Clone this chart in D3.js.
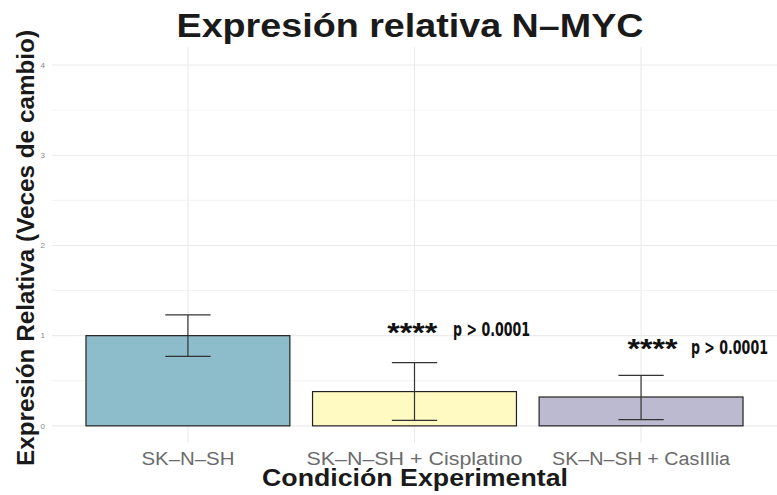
<!DOCTYPE html>
<html>
<head>
<meta charset="utf-8">
<script src="https://cdn.jsdelivr.net/npm/d3@7"></script>
<style>
body{margin:0;background:#fff}
text{font-family:"Liberation Sans",Arial,sans-serif}
</style>
</head>
<body>
<div id="chart"></div>
<script>
var categories = ["SK\u2013N\u2013SH", "SK\u2013N\u2013SH + Cisplatino", "SK\u2013N\u2013SH + CasIIlia"]
var labelWidths = [93, 216, 178]
var means = [1.0, 0.38, 0.32]
var errLow = [0.77, 0.06, 0.07]
var errHigh = [1.23, 0.70, 0.56]
var fills = ["#8dbccb", "#fff9c2", "#bcbad0"]
var yTicks = [0, 1, 2, 3, 4]
var yMinor = [0.5, 1.5, 2.5, 3.5]
// significance labels: category index + offset, y value
var starLabels = [{cat:1, dx:-0.01, y:0.93, text:"****"}, {cat:2, dx:0.05, y:0.75, text:"****"}]
var pLabels = [{cat:1, dx:0.34, y:1.0, text:"p > 0.0001"}, {cat:2, dx:0.39, y:0.8, text:"p > 0.0001"}]

var W=777, H=495
var m={top:47,right:0,bottom:52,left:52}

var svg=d3.select("#chart").append("svg").attr("width",W).attr("height",H)

// ggplot discrete expand: 0.6 on each side of the first/last category centre
var unit=(W-m.right-m.left)/(categories.length-1+1.2)
function cx(i){return m.left+unit*(0.6+i)}

var y=d3.scaleLinear().domain([-0.19,4.2]).range([H-m.bottom,m.top])

var g=svg.append("g")

// grid
g.selectAll(".minor").data(yMinor).enter().append("line")
	.attr("x1",m.left).attr("x2",W-m.right)
	.attr("y1",d=>y(d)).attr("y2",d=>y(d))
	.attr("stroke","#ededed").attr("stroke-width",0.7)
g.selectAll(".major").data(yTicks).enter().append("line")
	.attr("x1",m.left).attr("x2",W-m.right)
	.attr("y1",d=>y(d)).attr("y2",d=>y(d))
	.attr("stroke","#ebebeb").attr("stroke-width",1.1)
g.selectAll(".vmajor").data(categories).enter().append("line")
	.attr("x1",(d,i)=>cx(i)).attr("x2",(d,i)=>cx(i))
	.attr("y1",m.top).attr("y2",H-m.bottom)
	.attr("stroke","#ebebeb").attr("stroke-width",1.1)

// y tick labels
g.selectAll(".ytl").data(yTicks).enter().append("text")
	.attr("x",m.left-7).attr("y",d=>y(d)).attr("dy","0.35em")
	.attr("text-anchor","end").attr("font-size","8px").attr("fill","#888")
	.text(d=>d)

// bars
var bw=unit*0.9
g.selectAll(".bar").data(means).enter().append("rect")
	.attr("x",(d,i)=>cx(i)-bw/2).attr("width",bw)
	.attr("y",d=>y(d)).attr("height",d=>y(0)-y(d))
	.attr("fill",(d,i)=>fills[i]).attr("stroke","#222").attr("stroke-width",1.2)

// error bars
var cw=unit*0.2
var eb=g.selectAll(".eb").data(means).enter().append("g").attr("stroke","#333").attr("stroke-width",1.2)
eb.append("line").attr("x1",(d,i)=>cx(i)).attr("x2",(d,i)=>cx(i)).attr("y1",(d,i)=>y(errLow[i])).attr("y2",(d,i)=>y(errHigh[i]))
eb.append("line").attr("x1",(d,i)=>cx(i)-cw/2).attr("x2",(d,i)=>cx(i)+cw/2).attr("y1",(d,i)=>y(errLow[i])).attr("y2",(d,i)=>y(errLow[i]))
eb.append("line").attr("x1",(d,i)=>cx(i)-cw/2).attr("x2",(d,i)=>cx(i)+cw/2).attr("y1",(d,i)=>y(errHigh[i])).attr("y2",(d,i)=>y(errHigh[i]))

// significance annotations
g.selectAll(".star").data(starLabels).enter().append("text")
	.attr("x",d=>cx(d.cat)+d.dx*unit).attr("y",d=>y(d.y))
	.attr("text-anchor","middle").attr("font-size","27px").attr("font-weight","bold").attr("fill","#111")
	.attr("textLength",50).attr("lengthAdjust","spacingAndGlyphs")
	.text(d=>d.text)
g.selectAll(".pval").data(pLabels).enter().append("text")
	.attr("x",d=>cx(d.cat)+d.dx*unit).attr("y",d=>y(d.y))
	.attr("text-anchor","middle").attr("font-size","19px").attr("font-weight","bold").attr("fill","#111")
	.style("font-family","'Liberation Sans Narrow','DejaVu Sans Condensed',sans-serif")
	.attr("textLength",77).attr("lengthAdjust","spacingAndGlyphs")
	.text(d=>d.text)

// x tick labels
g.selectAll(".xtl").data(categories).enter().append("text")
	.attr("x",(d,i)=>cx(i)).attr("y",465)
	.attr("text-anchor","middle").attr("font-size","18px").attr("fill","#6b6b6b")
	.attr("textLength",(d,i)=>labelWidths[i]).attr("lengthAdjust","spacingAndGlyphs")
	.text(d=>d)

// titles
svg.append("text").attr("x",410).attr("y",37).attr("text-anchor","middle")
	.attr("font-size","34px").attr("font-weight","bold").attr("fill","#1a1a1a")
	.attr("textLength",467).attr("lengthAdjust","spacingAndGlyphs")
	.text("Expresión relativa N\u2013MYC")
svg.append("text").attr("x",415).attr("y",486).attr("text-anchor","middle")
	.attr("font-size","23px").attr("font-weight","bold").attr("fill","#1a1a1a")
	.attr("textLength",306).attr("lengthAdjust","spacingAndGlyphs")
	.text("Condición Experimental")
svg.append("text").attr("transform","translate(34,248) rotate(-90)").attr("text-anchor","middle")
	.attr("font-size","24px").attr("font-weight","bold").attr("fill","#1a1a1a")
	.attr("textLength",436).attr("lengthAdjust","spacingAndGlyphs")
	.text("Expresión Relativa (Veces de cambio)")
</script>
</body>
</html>
